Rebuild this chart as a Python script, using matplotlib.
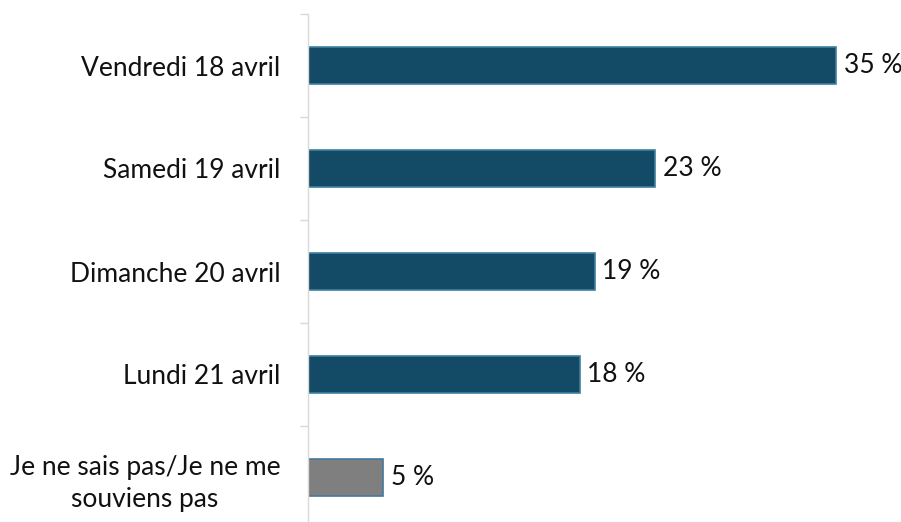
import matplotlib
matplotlib.use("Agg")
import matplotlib.pyplot as plt

categories = [
    "Vendredi 18 avril",
    "Samedi 19 avril",
    "Dimanche 20 avril",
    "Lundi 21 avril",
    "Je ne sais pas/Je ne me\nsouviens pas",
]
values = [35, 23, 19, 18, 5]
value_labels = ["35 %", "23 %", "19 %", "18 %", "5 %"]

bar_colors = ["#134a66", "#134a66", "#134a66", "#134a66", "#7f7f7f"]
edge_colors = ["#3f7fa0", "#3f7fa0", "#3f7fa0", "#3f7fa0", "#41789c"]

plt.rcParams["font.family"] = ["Lato", "DejaVu Sans"]
FS = 19

W, H = 901, 522
fig = plt.figure(figsize=(W / 100, H / 100), dpi=100)
left_px, top_px, band_px = 308, 14, 103
n = len(categories)
bottom_px = top_px + n * band_px
ax = fig.add_axes([left_px / W, (H - bottom_px) / H, (W - left_px) / W, n * band_px / H])

px_per_unit = 15.09
ax.set_xlim(0, (W - left_px) / px_per_unit)
ax.set_ylim(n, 0)

ys = [i + 0.5 for i in range(n)]
ax.barh(ys, values, height=0.36, color=bar_colors, edgecolor=edge_colors, linewidth=1.2)

for y, v, lab in zip(ys, values, value_labels):
    ax.text(v + 0.5, y, lab, va="center", ha="left", fontsize=FS, color="#111111")

ax.set_yticks(ys)
ax.set_yticklabels(categories, fontsize=FS, color="#111111", multialignment="center",
                   linespacing=1.35)
ax.tick_params(axis="y", length=0, pad=20)
ax.set_yticks(range(n + 1), minor=True)
ax.tick_params(axis="y", which="minor", length=6, color="#d9d9d9", width=1)
ax.set_xticks([])

for s in ["top", "right", "bottom"]:
    ax.spines[s].set_visible(False)
ax.spines["left"].set_color("#d9d9d9")
ax.spines["left"].set_linewidth(1)

fig.savefig("out.png", dpi=100)
